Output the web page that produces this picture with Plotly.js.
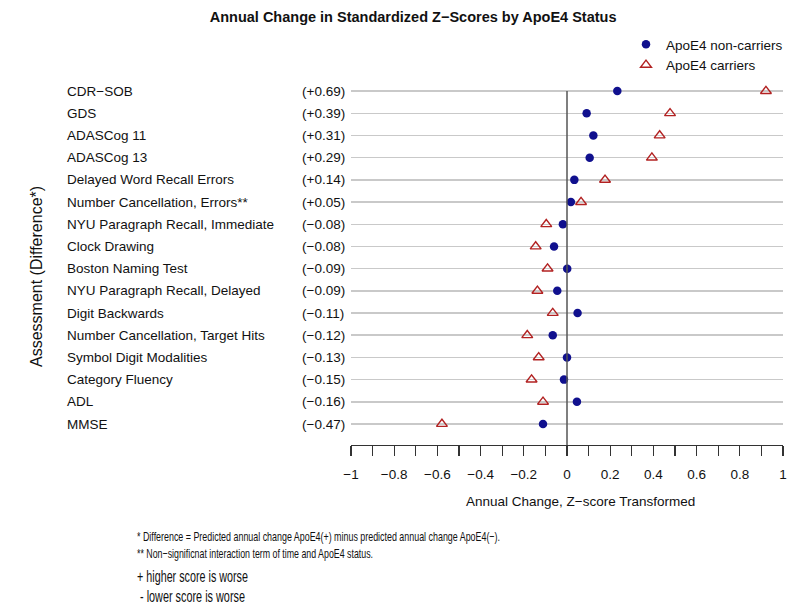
<!DOCTYPE html>
<html>
<head>
<meta charset="utf-8">
<script src="https://cdn.plot.ly/plotly-3.0.1.min.js"></script>
<style>html,body{margin:0;padding:0;background:#fff;}#chart{width:810px;height:612px;}</style>
</head>
<body>
<div id="chart"></div>
<script>
const assessments = ["CDR\u2212SOB","GDS","ADASCog 11","ADASCog 13","Delayed Word Recall Errors","Number Cancellation, Errors**","NYU Paragraph Recall, Immediate","Clock Drawing","Boston Naming Test","NYU Paragraph Recall, Delayed","Digit Backwards","Number Cancellation, Target Hits","Symbol Digit Modalities","Category Fluency","ADL","MMSE"];
const differences = ["(+0.69)","(+0.39)","(+0.31)","(+0.29)","(+0.14)","(+0.05)","(\u22120.08)","(\u22120.08)","(\u22120.09)","(\u22120.09)","(\u22120.11)","(\u22120.12)","(\u22120.13)","(\u22120.15)","(\u22120.16)","(\u22120.47)"];
const nonCarriers = [0.233,0.091,0.122,0.105,0.034,0.018,-0.019,-0.060,0.001,-0.045,0.049,-0.066,0.000,-0.014,0.046,-0.111];
const carriers = [0.921,0.477,0.429,0.393,0.176,0.065,-0.096,-0.145,-0.090,-0.137,-0.066,-0.184,-0.131,-0.164,-0.111,-0.579];
const footnotes = ["* Difference = Predicted annual change ApoE4(+) minus predicted annual change ApoE4(\u2212).","** Non\u2212significnat interaction term of time and ApoE4 status."];
const signNotes = ["+ higher score is worse"," - lower score is worse"];

const FONT = "Liberation Sans, Arial, sans-serif";

const traces = [
  {type:"scatter", mode:"markers", name:"ApoE4 non-carriers", x:nonCarriers, y:assessments,
   marker:{symbol:"circle", size:8.5, color:"#10108e"}},
  {type:"scatter", mode:"markers", name:"ApoE4 carriers", x:carriers, y:assessments,
   marker:{symbol:"triangle-up-open", size:9.5, color:"#b22222", line:{width:1.4, color:"#b22222"}}}
];

function py(p){ return (445 - p) / 365; }
function px(p){ return (p - 351) / 432; }

const annotations = [];
assessments.forEach((a,i)=>{
  annotations.push({xref:"paper", yref:"y", x:px(65), y:a, text:a, showarrow:false, xanchor:"left", yanchor:"middle", font:{family:FONT, size:13.5, color:"#111"}});
  annotations.push({xref:"paper", yref:"y", x:px(300), y:a, text:differences[i], showarrow:false, xanchor:"left", yanchor:"middle", font:{family:FONT, size:13.5, color:"#111"}});
});
annotations.push({xref:"paper", yref:"paper", x:px(36), y:py(277), text:"Assessment (Difference*)", textangle:-90, showarrow:false, xanchor:"center", yanchor:"middle", font:{family:FONT, size:16, color:"#111"}});
annotations.push({xref:"paper", yref:"paper", x:px(580), y:py(502), text:"Annual Change, Z\u2212score Transformed", showarrow:false, xanchor:"center", yanchor:"middle", font:{family:FONT, size:13.5, color:"#111"}});
annotations.push({xref:"paper", yref:"paper", x:px(135), y:py(536), text:footnotes[0], align:"left", showarrow:false, xanchor:"left", yanchor:"middle", font:{family:FONT, size:13, color:"#111"}});
annotations.push({xref:"paper", yref:"paper", x:px(135), y:py(553), text:footnotes[1], align:"left", showarrow:false, xanchor:"left", yanchor:"middle", font:{family:FONT, size:13, color:"#111"}});
annotations.push({xref:"paper", yref:"paper", x:px(135), y:py(576), text:signNotes[0], align:"left", showarrow:false, xanchor:"left", yanchor:"middle", font:{family:FONT, size:17, color:"#111"}});
annotations.push({xref:"paper", yref:"paper", x:px(135), y:py(596), text:signNotes[1], align:"left", showarrow:false, xanchor:"left", yanchor:"middle", font:{family:FONT, size:17, color:"#111"}});

const layout = {
  width:810, height:612,
  paper_bgcolor:"#fff", plot_bgcolor:"#fff",
  margin:{l:351, r:27, t:80, b:167},
  font:{family:FONT, size:13.5, color:"#111"},
  title:{text:"<b>Annual Change in Standardized Z\u2212Scores by ApoE4 Status</b>", x:0.51, xanchor:"center", y:1-17/612, yanchor:"middle", yref:"container", font:{family:FONT, size:14.5, color:"#111"}},
  showlegend:true,
  legend:{x:px(626), y:py(29), xanchor:"left", yanchor:"top", bgcolor:"rgba(0,0,0,0)", font:{family:FONT, size:13.5, color:"#111"}, tracegroupgap:0},
  xaxis:{range:[-1,1], tick0:-1, dtick:0.2, ticks:"outside", ticklen:10, tickwidth:1.2, tickcolor:"#333",
         showline:true, linecolor:"#333", linewidth:1.3, showgrid:false, zeroline:false, ticklabelstandoff:6,
         minor:{dtick:0.1, ticks:"outside", ticklen:10, tickwidth:1.2, tickcolor:"#333", showgrid:false},
         tickfont:{family:FONT, size:13.5, color:"#111"}, fixedrange:true},
  yaxis:{type:"category", categoryarray:assessments, categoryorder:"array", range:[15.946,-0.5],
         showticklabels:false, ticks:"", showgrid:true, gridcolor:"#c9c9c9", gridwidth:1.5, zeroline:false, showline:false, fixedrange:true},
  shapes:[{type:"line", xref:"x", yref:"paper", x0:0, x1:0, y0:0, y1:py(91), line:{color:"#555", width:1.5}}],
  annotations:annotations
};

// condensed look of the footnotes in the original (target rendered widths, px)
const condensed = [[footnotes[0],363],[footnotes[1],236],[signNotes[0],111],[signNotes[1],108]];

Plotly.newPlot("chart", traces, layout, {displayModeBar:false, staticPlot:true}).then(()=>{
  document.querySelectorAll("#chart g.annotation text").forEach(t=>{
    const txt = t.textContent;
    condensed.forEach(([s,w])=>{
      if (txt === s || txt.trim() === s.trim()) {
        t.setAttribute("textLength", w);
        t.setAttribute("lengthAdjust", "spacingAndGlyphs");
      }
    });
  });
});
</script>
</body>
</html>
